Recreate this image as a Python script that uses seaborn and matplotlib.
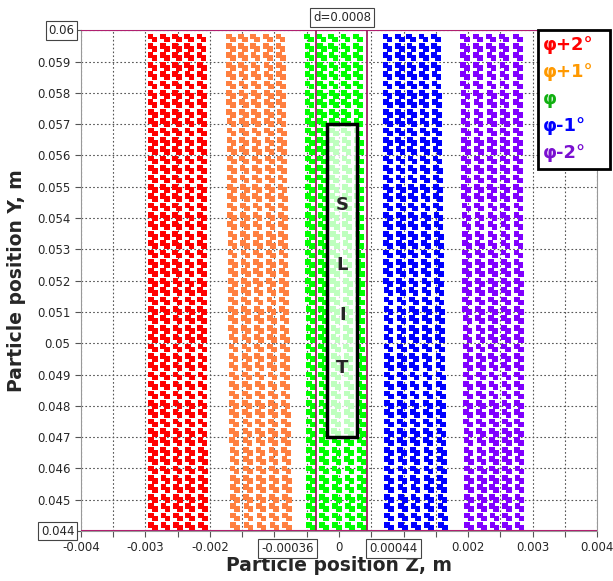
import numpy as np
import pandas as pd
import seaborn as sns
import matplotlib.pyplot as plt
from matplotlib.patches import Rectangle

# pair-column centres (z, m) of each beam at the top (y=0.06) and bottom (y=0.044)
bands = ['φ+2°', 'φ+1°', 'φ', 'φ-1°', 'φ-2°']
z_top = {
    'φ+2°': [-0.00289, -0.00270, -0.00251, -0.00232, -0.00213],
    'φ+1°': [-0.00168, -0.00149, -0.00130, -0.00110, -0.00091],
    'φ':    [-0.00046, -0.00027, -0.00009, 0.00010, 0.00029],
    'φ-1°': [0.00075, 0.00094, 0.00112, 0.00131, 0.00150],
    'φ-2°': [0.00195, 0.00215, 0.00236, 0.00256, 0.00277],
}
z_bottom = {
    'φ+2°': [-0.00288, -0.00269, -0.00250, -0.00231, -0.00211],
    'φ+1°': [-0.00161, -0.00140, -0.00120, -0.00100, -0.00080],
    'φ':    [-0.00043, -0.00023, -0.00003, 0.00017, 0.00036],
    'φ-1°': [0.00078, 0.00099, 0.00119, 0.00140, 0.00161],
    'φ-2°': [0.00202, 0.00222, 0.00241, 0.00261, 0.00280],
}
point_colors = ['#ff0000', '#ff8040', '#00ff00', '#0000ff', '#8000ff']
text_colors = ['#ff0000', '#ff9900', '#10b010', '#0000ff', '#7a10d0']

y_rows = np.arange(0.04415, 0.05995, 0.0003)
slit_z = (-0.00036, 0.00044)
slit_box = (-0.00018, 0.047, 0.00046, 0.010)

yticks = [0.044, 0.045, 0.046, 0.047, 0.048, 0.049, 0.05, 0.051, 0.052, 0.053,
          0.054, 0.055, 0.056, 0.057, 0.058, 0.059, 0.06]
xticks = [-0.004, -0.0035, -0.003, -0.0025, -0.002, -0.0015, -0.001, -0.0005, 0,
          0.0005, 0.001, 0.0015, 0.002, 0.0025, 0.003, 0.0035, 0.004]
xlabels = {-0.004: '-0.004', -0.003: '-0.003', -0.002: '-0.002', 0: '0',
           0.002: '0.002', 0.003: '0.003', 0.004: '0.004'}

rows = []
for b in bands:
    for zt, zb in zip(z_top[b], z_bottom[b]):
        for y in y_rows:
            t = (0.06 - y) / 0.016
            zc = zt + (zb - zt) * t
            rows.append((b, zc - 0.000031, y + 0.000048))
            rows.append((b, zc + 0.000031, y - 0.000048))
df = pd.DataFrame(rows, columns=['band', 'z', 'y'])

sns.set_style('white')
fig = plt.figure(figsize=(6.13, 5.81), dpi=100)
ax = fig.add_axes([0.132, 0.086, 0.842, 0.862])

sns.scatterplot(data=df, x='z', y='y', hue='band', hue_order=bands,
                palette=point_colors, marker='s', s=17, linewidth=0,
                legend=False, ax=ax, zorder=3)

ax.set_xlim(-0.004, 0.004)
ax.set_ylim(0.044, 0.06)
ax.set_xticks(xticks)
ax.set_xticklabels([xlabels.get(round(v, 4), '') for v in xticks], fontsize=8.5)
ax.set_yticks(yticks)
ax.set_yticklabels(['' if v in (0.044, 0.06) else f'{v:g}' for v in yticks], fontsize=8.5)
ax.grid(True, linestyle=(0, (1.5, 2)), color='#555555', linewidth=0.8)
ax.tick_params(length=4, color='#555555', direction='out', bottom=True, left=True)
for sp in ax.spines.values():
    sp.set_color('#999999')

ax.axhline(0.06, color='#b0206f', lw=1.5, zorder=4)
ax.axhline(0.044, color='#b0206f', lw=1.5, zorder=4)
for z in slit_z:
    ax.axvline(z, color='#a0205f', lw=1.3, zorder=4)

ax.add_patch(Rectangle(slit_box[:2], slit_box[2], slit_box[3], facecolor='white',
                       alpha=0.75, edgecolor='none', zorder=5))
ax.add_patch(Rectangle(slit_box[:2], slit_box[2], slit_box[3], facecolor='none',
                       edgecolor='black', lw=2.5, zorder=6))
for ch, yy in zip('SLIT', [0.0544, 0.0525, 0.0509, 0.0492]):
    ax.text(0.00005, yy, ch, ha='center', va='center', fontsize=13,
            fontweight='bold', zorder=7)

box = dict(boxstyle='square,pad=0.25', facecolor='white', edgecolor='#444444', lw=0.8)
ax.text(-0.0041, 0.06, '0.06', ha='right', va='center', fontsize=8.5, bbox=box)
ax.text(-0.0041, 0.044, '0.044', ha='right', va='center', fontsize=8.5, bbox=box)
ax.text(slit_z[0] - 0.00003, -0.035, '-0.00036', transform=ax.get_xaxis_transform(),
        ha='right', va='center', fontsize=8.5, bbox=box)
ax.text(slit_z[1] + 0.00003, -0.035, '0.00044', transform=ax.get_xaxis_transform(),
        ha='left', va='center', fontsize=8.5, bbox=box)
ax.text(0.00005, 1.025, 'd=0.0008', transform=ax.get_xaxis_transform(),
        ha='center', va='center', fontsize=8.5, bbox=box)

# legend box drawn as coloured labels
ax.add_patch(Rectangle((0.886, 0.723), 0.14, 0.277, transform=ax.transAxes,
                       facecolor='white', edgecolor='black', lw=2, zorder=8,
                       clip_on=False))
for i, (lab, c) in enumerate(zip(bands, text_colors)):
    ax.text(0.895, 0.97 - i * 0.054, lab, transform=ax.transAxes, color=c,
            fontsize=13, fontweight='bold', va='center', ha='left', zorder=9)

ax.set_xlabel('Particle position Z, m', fontsize=13.5, fontweight='bold', labelpad=1)
ax.set_ylabel('Particle position Y, m', fontsize=13.5, fontweight='bold', labelpad=8)

fig.savefig('out.png', dpi=100)
